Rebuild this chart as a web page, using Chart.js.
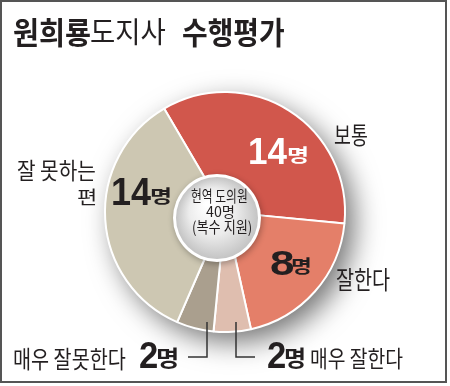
<!DOCTYPE html>
<html>
<head>
<meta charset="utf-8">
<script src="https://cdn.jsdelivr.net/npm/chart.js@4/dist/chart.umd.min.js"></script>
<style>
  html, body { margin:0; padding:0; background:#fff; }
  #wrap { position:relative; width:450px; height:386px; overflow:hidden; }
  #frame { position:absolute; left:0; top:0; width:447px; height:383px; box-sizing:border-box; border:2px solid #555; pointer-events:none; }
  canvas { position:absolute; left:0; top:0; }
  .t { position:absolute; white-space:pre; line-height:1; color:#231f20; }
</style>
</head>
<body>
<div id="wrap">
  <canvas id="c" width="450" height="386"></canvas>
  <div id="labels"></div>
  <div id="frame"></div>
</div>
<script>
// ---- data ----
const categories = ["보통", "잘한다", "매우 잘한다", "매우 잘못한다", "잘 못하는 편"];
const values = [14, 8, 2, 2, 14];
const unit = "명";
const colors = ["#d1574c", "#e47f69", "#dfbeaf", "#aa9f8e", "#cdc7b2"];
const titleBold1 = "원희룡";
const titleRegular = "도지사";
const titleBold2 = "수행평가";
const centerLines = ["현역 도의원", "40명", "(복수 지원)"];

// ---- plugins ----
const shadowPlugin = {
  id: 'shadow',
  beforeDatasetsDraw(chart) {
    const a = chart.getDatasetMeta(0).data[0];
    if (!a) return;
    const ctx = chart.ctx;
    ctx.save();
    ctx.shadowColor = 'rgba(0,0,0,0.55)';
    ctx.shadowBlur = 28;
    ctx.shadowOffsetX = 9;
    ctx.shadowOffsetY = 10;
    ctx.fillStyle = '#bbb';
    ctx.beginPath();
    ctx.arc(a.x, a.y, a.outerRadius, 0, Math.PI * 2);
    ctx.fill();
    ctx.restore();
  },
  afterDatasetsDraw(chart) {
    const a = chart.getDatasetMeta(0).data[0];
    if (!a) return;
    const ctx = chart.ctx;
    const hx = a.x - 8, hy = a.y + 6, R = 44;
    ctx.save();
    ctx.shadowColor = 'rgba(0,0,0,0.3)';
    ctx.shadowBlur = 6;
    ctx.shadowOffsetX = 1;
    ctx.shadowOffsetY = 2;
    ctx.fillStyle = '#fff';
    ctx.beginPath();
    ctx.arc(hx, hy, R, 0, Math.PI * 2);
    ctx.fill();
    ctx.restore();
    ctx.save();
    const g = ctx.createRadialGradient(hx - 10, hy - 14, 2, hx, hy, R - 3);
    g.addColorStop(0, '#ffffff');
    g.addColorStop(0.55, '#ececec');
    g.addColorStop(1, '#c4c4c4');
    ctx.fillStyle = g;
    ctx.beginPath();
    ctx.arc(hx, hy, R - 3, 0, Math.PI * 2);
    ctx.fill();
    ctx.restore();
  },
  afterDraw(chart) {
    const ctx = chart.ctx;
    ctx.save();
    ctx.strokeStyle = '#333';
    ctx.lineWidth = 1.5;
    ctx.beginPath();
    ctx.moveTo(188, 357); ctx.lineTo(207, 357); ctx.lineTo(207, 322);
    ctx.moveTo(236, 322); ctx.lineTo(236, 357); ctx.lineTo(255, 357);
    ctx.stroke();
    ctx.restore();
  }
};

new Chart(document.getElementById('c'), {
  type: 'doughnut',
  data: {
    labels: categories,
    datasets: [{
      data: values,
      backgroundColor: colors,
      borderColor: '#ffffff',
      borderWidth: 2,
      hoverOffset: 0
    }]
  },
  options: {
    responsive: false,
    animation: false,
    rotation: -30.5,
    cutout: '25%',
    layout: { padding: { left: 104, right: 104, top: 91, bottom: 53 } },
    plugins: { legend: { display: false }, tooltip: { enabled: false } },
    events: []
  },
  plugins: [shadowPlugin]
});

// ---- text labels (HTML), fitted to an ink box ----
const KR = '"Noto Sans CJK KR", "Noto Sans", sans-serif';
const NUM = '"Liberation Sans", Arial, sans-serif';
const L = document.getElementById('labels');
const mctx = document.createElement('canvas').getContext('2d');
function fit(text, box, family, weight, color) {
  const [x0, y0, x1, y1] = box;
  mctx.font = weight + ' 100px ' + family;
  const m = mctx.measureText(text);
  const inkH = m.actualBoundingBoxAscent + m.actualBoundingBoxDescent;
  const inkW = m.actualBoundingBoxLeft + m.actualBoundingBoxRight;
  const size = 100 * (y1 - y0) / inkH;
  const k = size / 100;
  const sx = (x1 - x0) / (inkW * k);
  const s = document.createElement('span');
  s.className = 't';
  s.style.fontFamily = family;
  s.style.fontWeight = weight;
  s.style.fontSize = size + 'px';
  if (color) s.style.color = color;
  s.textContent = text;
  const probe = document.createElement('i');
  probe.style.cssText = 'display:inline-block;width:0;height:0;vertical-align:baseline;';
  s.appendChild(probe);
  s.style.left = '0px'; s.style.top = '0px';
  L.appendChild(s);
  const baseline = probe.getBoundingClientRect().top - s.getBoundingClientRect().top;
  s.style.top = (y0 + m.actualBoundingBoxAscent * k - baseline) + 'px';
  s.style.left = (x0 + m.actualBoundingBoxLeft * k * sx) + 'px';
  s.style.transformOrigin = 'left top';
  s.style.transform = 'scaleX(' + sx + ')';
  return s;
}

// title
fit(titleBold1, [14, 18, 90, 47], KR, 700);
fit(titleRegular, [91, 19, 165, 46], KR, 400);
fit(titleBold2, [183, 18, 284, 47], KR, 700);

// category labels
fit(categories[0], [335, 125, 367, 146], KR, 400);
fit(categories[1], [337, 268, 390, 291], KR, 400);
fit("잘 못하는", [18, 160, 95, 181], KR, 400);
fit("편", [78, 189, 95, 205], KR, 400);
fit(categories[3], [15, 348, 126, 370], KR, 400);
fit(categories[2], [312, 348, 403, 369], KR, 400);

// value labels
fit(String(values[0]), [250, 138, 287, 164], NUM, 700, '#ffffff');
fit(unit, [289, 147, 307, 164], KR, 700, '#ffffff');
fit(String(values[4]), [113, 178, 151, 205], NUM, 700);
fit(unit, [152, 188, 170, 205], KR, 700);
fit(String(values[1]), [271, 250, 293, 275], NUM, 700);
fit(unit, [293, 258, 310, 275], KR, 700);
fit(String(values[3]), [140, 342, 157, 368], NUM, 700);
fit(unit, [158, 347, 177, 368], KR, 700);
fit(String(values[2]), [268, 342, 285, 368], NUM, 700);
fit(unit, [286, 347, 304, 368], KR, 700);

// center
fit(centerLines[0], [192, 188, 247, 203], KR, 400);
fit(centerLines[1], [206, 205, 233, 218], KR, 400);
fit(centerLines[2], [193, 220, 251, 236], KR, 400);
</script>
</body>
</html>
